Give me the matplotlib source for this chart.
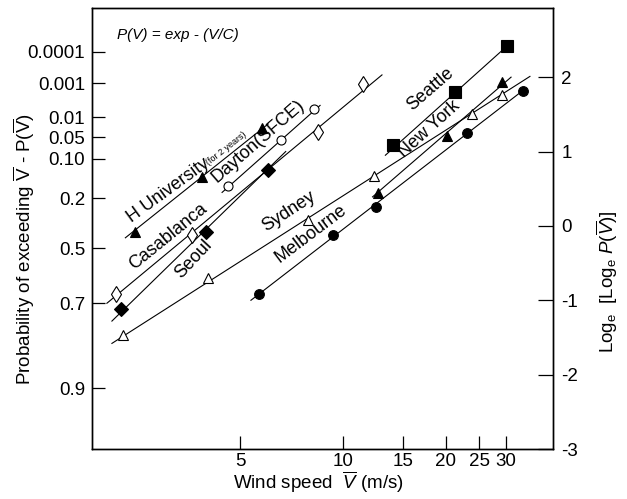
import numpy as np
import matplotlib
matplotlib.use('Agg')
import matplotlib.pyplot as plt
from matplotlib.ticker import NullLocator

plt.rcParams['font.family'] = ['Liberation Sans', 'DejaVu Sans']
plt.rcParams['mathtext.fontset'] = 'custom'
plt.rcParams['mathtext.rm'] = 'Liberation Sans'
plt.rcParams['mathtext.it'] = 'Liberation Sans:italic'
plt.rcParams['axes.unicode_minus'] = False

# wind speed (m/s) vs loge(loge P) per site
hu_v = [2.47, 3.87, 5.80]
hu_y = [-0.08, 0.66, 1.32]
hu_line_v = [2.31, 6.04]
hu_line_y = [-0.16, 1.37]

dayton_v = [4.61, 6.59, 8.23]
dayton_y = [0.54, 1.15, 1.57]
dayton_line_v = [4.43, 8.57]
dayton_line_y = [0.45, 1.62]

casa_v = [2.17, 3.61, 8.45, 11.44]
casa_y = [-0.92, -0.12, 1.26, 1.91]
casa_line_v = [2.04, 13.0]
casa_line_y = [-1.04, 2.03]

seoul_v = [2.24, 3.97, 6.04]
seoul_y = [-1.12, -0.08, 0.75]
seoul_line_v = [2.11, 6.8]
seoul_line_y = [-1.28, 1.0]

sydney_v = [2.27, 4.03, 7.91, 12.33, 23.8, 29.2]
sydney_y = [-1.47, -0.70, 0.08, 0.67, 1.50, 1.76]
sydney_line_v = [2.11, 35.2]
sydney_line_y = [-1.58, 2.01]

melb_v = [5.67, 9.35, 12.5, 23.0, 33.6]
melb_y = [-0.92, -0.12, 0.25, 1.25, 1.81]
melb_line_v = [5.38, 34.0]
melb_line_y = [-1.00, 1.84]

ny_v = [12.66, 20.1, 29.2]
ny_y = [0.44, 1.21, 1.93]
ny_line_v = [12.2, 31.0]
ny_line_y = [0.39, 2.00]

seattle_v = [14.0, 21.2, 30.2]
seattle_y = [1.09, 1.80, 2.42]
seattle_line_v = [13.3, 30.2]
seattle_line_y = [0.95, 2.42]

prob_labels = ['0.0001', '0.001', '0.01', '0.05', '0.10', '0.2', '0.5', '0.7', '0.9']
prob_pos = [2.34, 1.92, 1.46, 1.19, 0.90, 0.37, -0.30, -1.04, -2.18]
right_ticks = [-3, -2, -1, 0, 1, 2]
x_ticks = [5, 10, 15, 20, 25, 30]

fig = plt.figure(figsize=(6.27, 4.99), dpi=100)
ax = fig.add_axes([0.1467, 0.1002, 0.7352, 0.8838])

lw = 0.8
series = [
    (hu_line_v, hu_line_y, hu_v, hu_y, '^', 'black', 7),
    (dayton_line_v, dayton_line_y, dayton_v, dayton_y, 'o', 'white', 6.5),
    (casa_line_v, casa_line_y, casa_v, casa_y, 'd', 'white', 8.5),
    (seoul_line_v, seoul_line_y, seoul_v, seoul_y, 'D', 'black', 7),
    (sydney_line_v, sydney_line_y, sydney_v, sydney_y, '^', 'white', 7.5),
    (melb_line_v, melb_line_y, melb_v, melb_y, 'o', 'black', 7),
    (ny_line_v, ny_line_y, ny_v, ny_y, '^', 'black', 6.5),
    (seattle_line_v, seattle_line_y, seattle_v, seattle_y, 's', 'black', 8),
]
for lv, ly, v, y, m, fc, ms in series:
    ax.plot(lv, ly, color='black', lw=lw, zorder=2)
    ax.plot(v, y, m, ms=ms, mfc=fc, mec='black', mew=0.8, ls='none', zorder=3)

ax.set_xscale('log')
ax.set_xlim(1.845, 41.1)
ax.set_ylim(-3, 2.93)
ax.set_xticks(x_ticks)
ax.set_xticklabels([str(t) for t in x_ticks])
ax.xaxis.set_minor_locator(NullLocator())
ax.set_yticks(prob_pos)
ax.set_yticklabels(prob_labels)
ax.tick_params(axis='both', direction='in', length=9.5, width=0.9, labelsize=13.5, pad=5)
ax.tick_params(axis='x', pad=3)

ax2 = ax.twinx()
ax2.set_ylim(-3, 2.93)
ax2.set_yticks(right_ticks)
ax2.set_yticklabels([str(t) for t in right_ticks])
ax2.tick_params(axis='y', direction='in', length=11, width=0.9, labelsize=13.5, pad=6)

for a in (ax, ax2):
    for s in a.spines.values():
        s.set_linewidth(1.0)

tk = dict(fontsize=13, ha='center', va='center', rotation_mode='anchor')
ax.text(3.08, 0.48, 'H University', rotation=36, **tk)
ax.text(4.55, 1.04, '(for 2 years)', fontsize=6.5, rotation=38, ha='center', va='center', rotation_mode='anchor')
ax.text(5.65, 1.14, 'Dayton(SFCE)', rotation=41, **tk)
ax.text(3.08, -0.14, 'Casablanca', rotation=39, **tk)
ax.text(3.66, -0.44, 'Seoul', rotation=47, **tk)
ax.text(6.95, 0.19, 'Sydney', rotation=33, **tk)
ax.text(8.05, -0.10, 'Melbourne', rotation=37, **tk)
ax.text(18.0, 1.84, 'Seattle', rotation=41, **tk)
ax.text(17.9, 1.30, 'New York', rotation=42, **tk)
ax.text(0.054, 0.939, 'P(V) = exp - (V/C)', transform=ax.transAxes,
        fontsize=11, style='italic', va='center', ha='left')

fig.text(0.507, 0.008, r'Wind speed  $\overline{V}$ (m/s)', fontsize=13.5,
         ha='center', va='bottom')
fig.text(0.038, 0.50, r'Probability of exceeding $\overline{\mathrm{V}}$ - P($\overline{\mathrm{V}}$)',
         fontsize=13.5, rotation=90, ha='center', va='center')
fig.text(0.968, 0.435, r'Log$_\mathrm{e}$  [Log$_\mathrm{e}$ $P(\overline{V})$]',
         fontsize=13.5, rotation=90, ha='center', va='center')

fig.savefig('out.png', dpi=100)
